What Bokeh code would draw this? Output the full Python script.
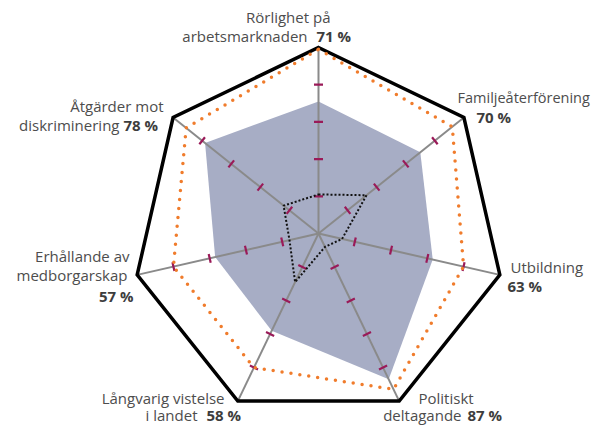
import numpy as np
from bokeh.plotting import figure
from bokeh.models import Range1d
from bokeh.core.properties import value
from bokeh.embed import file_html
from bokeh.resources import INLINE

# ---- data ----
categories = ["Rörlighet på arbetsmarknaden", "Familjeåterförening", "Utbildning",
              "Politiskt deltagande", "Långvarig vistelse i landet",
              "Erhållande av medborgarskap", "Åtgärder mot diskriminering"]
main_values = [71, 70, 63, 87, 58, 57, 78]          # filled series
best_values = [99, 92, 80, 93, 80, 80, 91]          # orange dotted series
low_values = [21, 33, 13, 8, 29, 16, 24]            # black dotted series
max_value = 100
tick_values = [20, 40, 60, 80]
label_names = [["Rörlighet på", "arbetsmarknaden"], ["Familjeåterförening"], ["Utbildning"],
               ["Politiskt", "deltagande"], ["Långvarig vistelse", "i landet"],
               ["Erhållande av", "medborgarskap"], ["Åtgärder mot", "diskriminering"]]
pct_labels = ["71 %", "70 %", "63 %", "87 %", "58 %", "57 %", "78 %"]

# ---- geometry ----
SCALE = 186.0   # px per unit radius
CX, CY = 318.0, 233.0  # centre in page pixels
W, H = 594, 425
ORIG = 0
n = len(categories)
ang = np.pi / 2 - 2 * np.pi * np.arange(n) / n


def xy(vals):
    r = np.asarray(vals, dtype=float) / max_value
    return r * np.cos(ang), r * np.sin(ang)


def px(X, Y):
    return (X - CX) / SCALE, (CY - Y) / SCALE


x0 = (ORIG - CX) / SCALE
y1 = (CY - ORIG) / SCALE
p = figure(width=W, height=H, output_backend="svg", toolbar_location=None,
           x_range=Range1d(x0, x0 + W / SCALE), y_range=Range1d(y1 - H / SCALE, y1),
           min_border=0)
p.axis.visible = False
p.grid.visible = False
p.outline_line_color = None
p.background_fill_color = "white"

# filled series
mx, my = xy(main_values)
p.patch(list(mx), list(my), fill_color="#a7adc5", line_color=None)

# axes spokes
ox, oy = xy([max_value] * n)
for i in range(n):
    p.line([0, ox[i]], [0, oy[i]], line_color="#8a8a8a", line_width=2)

# ticks
tl = 4.5 / SCALE
for i in range(n):
    for t in tick_values:
        r = t / max_value
        bx, by = r * np.cos(ang[i]), r * np.sin(ang[i])
        nx, ny = -np.sin(ang[i]), np.cos(ang[i])
        p.line([bx - nx * tl, bx + nx * tl], [by - ny * tl, by + ny * tl],
               line_color="#9a1a58", line_width=2.2)

# outer frame
p.patch(list(ox), list(oy), fill_color=None, line_color="black", line_width=3.5,
        line_join="miter")

# orange dotted
bx_, by_ = xy(best_values)
p.patch(list(bx_), list(by_), fill_color=None, line_color="#f07c2c", line_width=3.5,
        line_dash="0 9", line_cap="round")

# black dotted
lx, ly = xy(low_values)
p.patch(list(lx), list(ly), fill_color=None, line_color="#111111", line_width=2,
        line_dash="2 2")

# ---- labels (page pixel positions) ----
FONT = value("Open Sans")
TXT = "#4d4d4d"
PCT = "#3d3d3d"


def txt(X, Y, s, align="left", bold=False, fs="15px"):
    x, y = px(X, Y)
    p.text([x], [y], text=[s], text_font=FONT, text_font_size=fs,
           text_color=PCT if bold else TXT, text_align=align, text_baseline="middle",
           text_font_style="bold" if bold else "normal")

# 0 top
txt(330, 16, label_names[0][0], "right")
txt(307, 35, label_names[0][1], "right")
txt(316, 35, pct_labels[0], "left", True)
# 1 Familj
txt(457, 97, label_names[1][0], "left", fs="14.5px")
txt(476, 116, pct_labels[1], "left", True)
# 2 Utbildning
txt(510, 266, label_names[2][0], "left")
txt(507, 285, pct_labels[2], "left", True)
# 3 Politiskt
txt(418, 397, label_names[3][0], "left")
txt(461, 414, label_names[3][1], "right")
txt(467, 414, pct_labels[3], "left", True)
# 4 Långvarig
txt(224, 397, label_names[4][0], "right")
txt(197, 414, label_names[4][1], "right")
txt(206, 414, pct_labels[4], "left", True)
# 5 Erhållande
txt(129, 255, label_names[5][0], "right")
txt(127, 274, label_names[5][1], "right")
txt(133, 295, pct_labels[5], "right", True)
# 6 Åtgärder
txt(163, 105, label_names[6][0], "right")
txt(119, 124, label_names[6][1], "right")
txt(123, 124, pct_labels[6], "left", True)

open("out.html", "w").write(file_html(p, INLINE))
